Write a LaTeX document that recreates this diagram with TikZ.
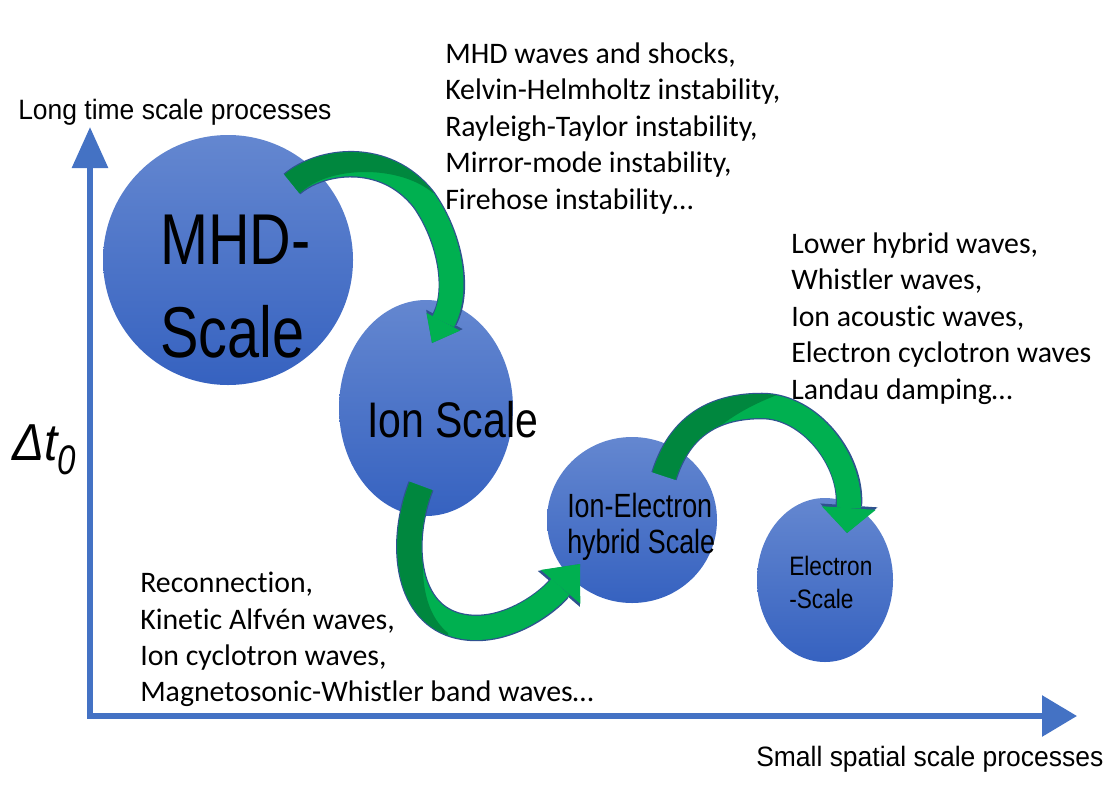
\documentclass[tikz,border=0pt]{standalone}
\usepackage{fontspec}
\usetikzlibrary{shapes.geometric, arrows.meta, calc}
\newfontfamily\bodyfont[Ligatures=NoCommon]{Carlito}
\newfontfamily\labelfont{Liberation Sans}
\newcommand{\narrowtxt}[2][0.8]{\scalebox{#1}[1]{#2}}
\definecolor{axisblue}{RGB}{68,114,196}
\definecolor{bubtop}{RGB}{100,135,208}
\definecolor{bubbot}{RGB}{54,98,192}
\definecolor{arrowgreen}{RGB}{0,176,80}
\definecolor{arrowdark}{RGB}{0,135,62}
\definecolor{arrowedge}{RGB}{47,82,143}

\begin{document}
\begin{tikzpicture}[x=0.75pt,y=0.75pt,yscale=-1,xscale=1,
  bubble/.style={ellipse, draw=none, top color=bubtop, bottom color=bubbot, inner sep=0pt},
  bubtext/.style={anchor=north west, inner sep=0pt, align=left},
  listtext/.style={anchor=north west, inner sep=0pt, align=left, font=\bodyfont\fontsize{22.35}{27.3}\selectfont},
  axislabel/.style={anchor=base west, inner sep=0pt, font=\labelfont\fontsize{21}{24}\selectfont},
  axisline/.style={draw=axisblue, line width=4.5pt},
  bandedge/.style={draw=arrowedge, line width=19.9pt},
  bandfill/.style={draw=arrowgreen, line width=18pt},
  bandback/.style={draw=arrowdark, line width=18pt}]
\useasboundingbox (0,0) rectangle (1119,789);

%Straight Lines: axes
\coordinate (origin) at (90,716);
\draw [axisline, {Triangle[width=26.25pt,length=30.75pt]}-{Triangle[width=30pt,length=26.25pt]}] (90,127) -- (origin) -- (1077,716);

%Shape: Ellipse
\node [bubble, minimum width=187.5pt, minimum height=187.5pt] (mhd) at (228,260) {};
%Shape: Ellipse
\node [bubble, minimum width=130.5pt, minimum height=162pt] (ion) at (426,408) {};
%Shape: Ellipse
\node [bubble, minimum width=127.5pt, minimum height=124.5pt] (ionel) at (632,520) {};
%Shape: Ellipse
\node [bubble, minimum width=102pt, minimum height=123pt] (elec) at (825,580) {};

% arrow ends
\coordinate (a1s) at ($(mhd.center)+(64,-76)$);
\coordinate (a1e) at ($(ion.center)+(6,-65)$);
\coordinate (a2s) at ($(ion.center)+(-5,78)$);
\coordinate (a2e) at ($(ionel.center)+(-52,44)$);
\coordinate (a3s) at ($(ionel.center)+(32,-44)$);
\coordinate (a3e) at ($(elec.center)+(22,-47)$);

%Curve Lines: MHD -> Ion
\draw [bandedge, -{Triangle[width=31pt,length=20pt,line width=0pt]}] (a1s) .. controls (320,160) and (385,150) .. (424,200) .. controls (450,237) and (460,290) .. (a1e);
\draw [bandfill, -{Triangle[width=28.5pt,length=18pt,line width=0pt]}] (a1s) .. controls (320,160) and (385,150) .. (424,200) .. controls (450,237) and (460,290) .. (a1e);
\begin{scope}
\clip (300,193) .. controls (330,165) and (400,165) .. (433,193) -- (445,175) -- (445,110) -- (260,110) -- (260,200) -- cycle;
\draw [bandback] (a1s) .. controls (320,160) and (385,150) .. (424,200) .. controls (450,237) and (460,290) .. (a1e);
\end{scope}

%Curve Lines: Ion -> Ion-Electron
\draw [bandedge, -{Triangle[width=41.5pt,length=24.5pt,line width=0pt]}] (a2s) .. controls (400,540) and (405,610) .. (455,625) .. controls (500,638) and (545,605) .. (a2e);
\draw [bandfill, -{Triangle[width=39pt,length=22.5pt,line width=0pt]}] (a2s) .. controls (400,540) and (405,610) .. (455,625) .. controls (500,638) and (545,605) .. (a2e);
\begin{scope}
\clip (435,492) .. controls (415,560) and (420,610) .. (448,633) -- (450,660) -- (370,660) -- (370,470) -- (445,470) -- cycle;
\draw [bandback] (a2s) .. controls (400,540) and (405,610) .. (455,625) .. controls (500,638) and (545,605) .. (a2e);
\end{scope}

%Curve Lines: Ion-Electron -> Electron
\draw [bandedge, -{Triangle[width=43pt,length=20.75pt,line width=0pt]}] (a3s) .. controls (680,425) and (715,406) .. (762,406) .. controls (810,406) and (852,460) .. (a3e);
\draw [bandfill, -{Triangle[width=40.5pt,length=18.75pt,line width=0pt]}] (a3s) .. controls (680,425) and (715,406) .. (762,406) .. controls (810,406) and (852,460) .. (a3e);
\begin{scope}
\clip (677,480) .. controls (695,440) and (730,413) .. (777,395) -- (782,370) -- (630,370) -- (630,490) -- (680,490) -- cycle;
\draw [bandback] (a3s) .. controls (680,425) and (715,406) .. (762,406) .. controls (810,406) and (852,460) .. (a3e);
\end{scope}

% Text Node
\node [bubtext, font=\labelfont\fontsize{54}{69.75}\selectfont] (mhdtxt) at (160,215) {\narrowtxt{MHD-}\\\narrowtxt{Scale}};
% Text Node
\node [anchor=base west, inner sep=0pt, font=\labelfont\fontsize{37.5}{45}\selectfont] (iontxt) at (367,437) {\narrowtxt[0.82]{Ion Scale}};
% Text Node
\node [bubtext, font=\labelfont\fontsize{25.2}{27}\selectfont] (ioneltxt) at (567,493) {\narrowtxt{Ion-Electron}\\\narrowtxt{hybrid Scale}};
% Text Node
\node [bubtext, font=\labelfont\fontsize{20}{24.75}\selectfont] (electxt) at (789,556) {\narrowtxt[0.85]{Electron}\\\narrowtxt[0.85]{-Scale}};

% Text Node
\node [listtext] (mhdlist) at (445,42.5) {MHD waves and shocks,\\Kelvin-Helmholtz instability,\\Rayleigh-Taylor instability,\\Mirror-mode instability,\\Firehose instability…};
% Text Node
\node [listtext] (eleclist) at (791,232.5) {Lower hybrid waves,\\Whistler waves,\\Ion acoustic waves,\\Electron cyclotron waves\\Landau damping…};
% Text Node
\node [listtext] (ionlist) at (140,572) {Reconnection,\\Kinetic Alfvén waves,\\Ion cyclotron waves,\\Magnetosonic-Whistler band waves…};

% Text Node
\node [axislabel] (ylabel) at (18,119) {\narrowtxt[0.945]{Long time scale processes}};
% Text Node
\node [axislabel] (xlabel) at (756,766) {\narrowtxt[0.945]{Small spatial scale processes}};
% Text Node
\node [anchor=base west, inner sep=0pt, font=\labelfont\itshape] (dt) at (12,460) {\fontsize{39}{42}\selectfont\narrowtxt[0.92]{Δt}\raisebox{-11pt}{\fontsize{31}{34}\selectfont\narrowtxt{0}}};

\end{tikzpicture}
\end{document}
